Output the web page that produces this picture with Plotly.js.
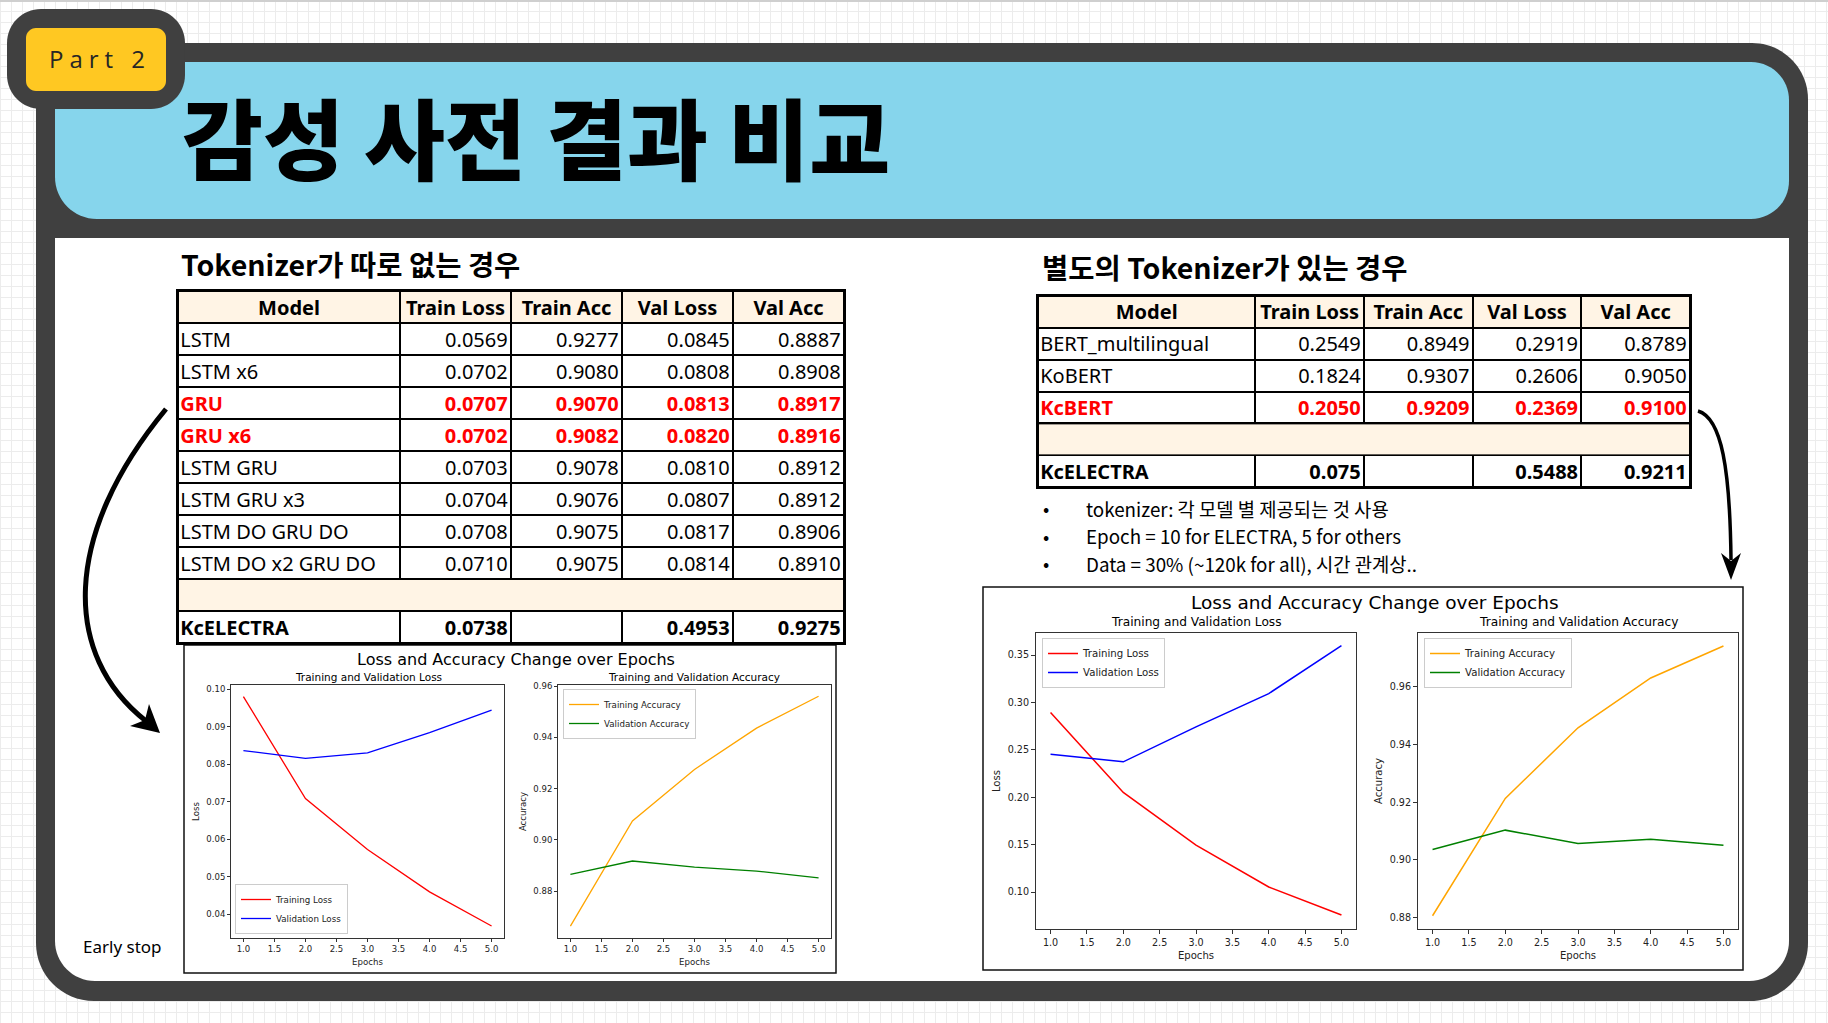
<!DOCTYPE html>
<html><head><meta charset="utf-8">
<script src="https://cdn.plot.ly/plotly-3.0.1.min.js"></script>
<style>
html,body{margin:0;padding:0;}
body{background-color:#fff;background-image:linear-gradient(#ececec 1px,transparent 1px),linear-gradient(90deg,#ececec 1px,transparent 1px);background-size:11px 11px;}
#chart{width:1828px;height:1023px;}
</style></head><body><div id="chart"></div>
<script>
// ---------------- data ----------------
const epochs = [1, 2, 3, 4, 5];
const leftTrainLoss = [0.0980, 0.0708, 0.0572, 0.0459, 0.0368];
const leftValLoss   = [0.0836, 0.0815, 0.0830, 0.0884, 0.0944];
const leftTrainAcc  = [0.8664, 0.9074, 0.9275, 0.9436, 0.9560];
const leftValAcc    = [0.8866, 0.8918, 0.8894, 0.8879, 0.8852];
const rightTrainLoss = [0.2893, 0.2050, 0.1495, 0.1053, 0.0758];
const rightValLoss   = [0.2454, 0.2373, 0.2742, 0.3093, 0.3598];
const rightTrainAcc  = [0.8806, 0.9213, 0.9458, 0.9631, 0.9742];
const rightValAcc    = [0.9036, 0.9103, 0.9057, 0.9071, 0.9051];

const tableHeaders = ['Model', 'Train Loss', 'Train Acc', 'Val Loss', 'Val Acc'];
const models1    = ['LSTM', 'LSTM x6', 'GRU', 'GRU x6', 'LSTM GRU', 'LSTM GRU x3', 'LSTM DO GRU DO', 'LSTM DO x2 GRU DO', '', 'KcELECTRA'];
const trainLoss1 = ['0.0569', '0.0702', '0.0707', '0.0702', '0.0703', '0.0704', '0.0708', '0.0710', '', '0.0738'];
const trainAcc1  = ['0.9277', '0.9080', '0.9070', '0.9082', '0.9078', '0.9076', '0.9075', '0.9075', '', ''];
const valLoss1   = ['0.0845', '0.0808', '0.0813', '0.0820', '0.0810', '0.0807', '0.0817', '0.0814', '', '0.4953'];
const valAcc1    = ['0.8887', '0.8908', '0.8917', '0.8916', '0.8912', '0.8912', '0.8906', '0.8910', '', '0.9275'];
const redRows1 = [2, 3];
const boldRows1 = [9];

const models2    = ['BERT_multilingual', 'KoBERT', 'KcBERT', '', 'KcELECTRA'];
const trainLoss2 = ['0.2549', '0.1824', '0.2050', '', '0.075'];
const trainAcc2  = ['0.8949', '0.9307', '0.9209', '', ''];
const valLoss2   = ['0.2919', '0.2606', '0.2369', '', '0.5488'];
const valAcc2    = ['0.8789', '0.9050', '0.9100', '', '0.9211'];
const redRows2 = [2];
const boldRows2 = [4];

const bulletLines = ['tokenizer: 각 모델 별 제공되는 것 사용', 'Epoch = 10 for ELECTRA, 5 for others', 'Data = 30% (~120k for all), 시간 관계상..'];

// ---------------- helpers ----------------
const W = 1828, H = 1023;
const X = p => p / W, Y = p => 1 - p / H;
const KR = 'Noto Sans CJK KR, Noto Sans, sans-serif';
const LAT = 'Noto Sans, Noto Sans CJK KR, sans-serif';
const MPL = 'DejaVu Sans, sans-serif';

function rr(x0, y0, x1, y1, r) {
  const k = 0.5523; const [a, b, c, d] = r;
  const P = (x, y) => X(x).toFixed(5) + ',' + Y(y).toFixed(5);
  return 'M' + P(x0 + a, y0) + ' L' + P(x1 - b, y0) +
    ' C' + P(x1 - b + b * k, y0) + ' ' + P(x1, y0 + b - b * k) + ' ' + P(x1, y0 + b) +
    ' L' + P(x1, y1 - c) +
    ' C' + P(x1, y1 - c + c * k) + ' ' + P(x1 - c + c * k, y1) + ' ' + P(x1 - c, y1) +
    ' L' + P(x0 + d, y1) +
    ' C' + P(x0 + d - d * k, y1) + ' ' + P(x0, y1 - d + d * k) + ' ' + P(x0, y1 - d) +
    ' L' + P(x0, y0 + a) +
    ' C' + P(x0, y0 + a - a * k) + ' ' + P(x0 + a - a * k, y0) + ' ' + P(x0 + a, y0) + ' Z';
}
function pth(pts) {
  return pts.map(s => s[0] + s.slice(1).reduce((acc, v, i) => acc + (i % 2 === 0 ? (i ? ' ' : '') + X(v).toFixed(5) : ',' + Y(v).toFixed(5)), '')).join(' ');
}
const shapes = [];
function addPath(path, fill, line) { shapes.push({type: 'path', xref: 'paper', yref: 'paper', path: path, fillcolor: fill, line: line || {width: 0}, layer: 'below'}); }
function addRect(x0, y0, x1, y1, fill, lc, lw) { shapes.push({type: 'rect', xref: 'paper', yref: 'paper', x0: X(x0), x1: X(x1), y0: Y(y1), y1: Y(y0), fillcolor: fill, line: {color: lc || fill, width: lw || 0}, layer: 'below'}); }

// ---------------- slide decoration ----------------
addRect(0, 0, W, 2, '#cfcfcf');
addPath(rr(36, 43, 1808, 1001, [40, 56, 58, 58]), '#404040');
addPath(rr(55, 238, 1789, 981, [0, 0, 40, 40]), '#ffffff');
addPath(rr(55, 62, 1789, 219, [0, 38, 38, 42]), '#86D5EC');
addPath(rr(7, 9, 185, 109, [34, 34, 34, 34]), '#404040');
addPath(rr(26, 28, 166, 91, [10, 10, 10, 10]), '#FFC822');
// chart frames
addRect(184, 645, 836, 973, '#ffffff', '#111111', 1.5);
addRect(983, 587, 1743, 970, '#ffffff', '#111111', 1.5);
// table backgrounds (border colour)
addRect(178, 291, 844, 643, '#000000');
addRect(1038, 296, 1690, 487, '#000000');
// arrows
addPath(pth([['M', 166, 409], ['C', 62, 535, 62, 655, 146, 721]]), 'rgba(0,0,0,0)', {color: '#000', width: 5});
addPath(pth([['M', 160, 733], ['L', 130, 726], ['L', 145, 720], ['L', 149, 704], ['Z']]), '#000');
addPath(pth([['M', 1698, 411], ['C', 1722, 418, 1730, 470, 1731, 560]]), 'rgba(0,0,0,0)', {color: '#000', width: 3.5});
addPath(pth([['M', 1731, 580], ['L', 1721, 553], ['L', 1731, 561], ['L', 1741, 553], ['Z']]), '#000');

// ---------------- traces ----------------
const traces = [];
function line(x, y, name, color, xa, ya, lg, w) {
  traces.push({type: 'scatter', mode: 'lines', x: x, y: y, name: name, line: {color: color, width: w},
    xaxis: xa, yaxis: ya, legend: lg, hoverinfo: 'skip'});
}
line(epochs, leftTrainLoss, 'Training Loss', '#ff0000', 'x', 'y', 'legend', 1.3);
line(epochs, leftValLoss, 'Validation Loss', '#0000ff', 'x', 'y', 'legend', 1.3);
line(epochs, leftTrainAcc, 'Training Accuracy', '#ffa500', 'x2', 'y2', 'legend2', 1.3);
line(epochs, leftValAcc, 'Validation Accuracy', '#008000', 'x2', 'y2', 'legend2', 1.3);
line(epochs, rightTrainLoss, 'Training Loss', '#ff0000', 'x3', 'y3', 'legend3', 1.5);
line(epochs, rightValLoss, 'Validation Loss', '#0000ff', 'x3', 'y3', 'legend3', 1.5);
line(epochs, rightTrainAcc, 'Training Accuracy', '#ffa500', 'x4', 'y4', 'legend4', 1.5);
line(epochs, rightValAcc, 'Validation Accuracy', '#008000', 'x4', 'y4', 'legend4', 1.5);

function addTable(models, cols, redRows, boldRows, xa, ya) {
  const edges = [0, 2, 3, 4, 5, 6];
  const nRows = models.length + 1;
  const yOff = 0.58;
  const z = [[1, 1, 1, 1, 1]];
  models.forEach(m => z.push(m === '' ? [null, null, null, null, null] : [0, 0, 0, 0, 0]));
  const yEdges = []; for (let i = 0; i <= nRows; i++) yEdges.push(i);
  const hm = {type: 'heatmap', xgap: 2, ygap: 2, zmin: 0, zmax: 1, colorscale: [[0, '#ffffff'], [1, '#FFF4E5']],
    showscale: false, hoverinfo: 'skip', xaxis: xa, yaxis: ya};
  traces.push(Object.assign({x: edges, y: yEdges, z: z}, hm));
  // merged (empty) rows span the whole table width
  models.forEach((m, i) => { if (m === '') traces.push(Object.assign({x: [0, 6], y: [i + 1, i + 2], z: [[1]]}, hm)); });
  const fnt = {family: LAT, size: 20, color: '#000'};
  traces.push({type: 'scatter', mode: 'text', x: tableHeaders.map((h, j) => (edges[j] + edges[j + 1]) / 2),
    y: tableHeaders.map(() => yOff), text: tableHeaders.map(h => '<b>' + h + '</b>'), textposition: 'middle center',
    textfont: fnt, xaxis: xa, yaxis: ya, showlegend: false, hoverinfo: 'skip'});
  const fmt = (v, i) => (redRows.includes(i) || boldRows.includes(i)) ? '<b>' + v + '</b>' : v;
  const col = i => redRows.includes(i) ? '#ff0000' : '#000000';
  const mx = [], my = [], mt = [], mc = [];
  models.forEach((m, i) => { if (m !== '') { mx.push(0.02); my.push(i + 1 + yOff); mt.push(fmt(m, i)); mc.push(col(i)); } });
  traces.push({type: 'scatter', mode: 'text', x: mx, y: my, text: mt, textposition: 'middle right',
    textfont: {family: LAT, size: 20, color: mc}, xaxis: xa, yaxis: ya, showlegend: false, hoverinfo: 'skip'});
  const nx = [], ny = [], nt = [], nc = [];
  cols.forEach((c, j) => c.forEach((v, i) => { if (v !== '') { nx.push(edges[j + 2] - 0.03); ny.push(i + 1 + yOff); nt.push(fmt(v, i)); nc.push(col(i)); } }));
  traces.push({type: 'scatter', mode: 'text', x: nx, y: ny, text: nt, textposition: 'middle left',
    textfont: {family: LAT, size: 20, color: nc}, xaxis: xa, yaxis: ya, showlegend: false, hoverinfo: 'skip'});
  return nRows;
}
const rows1 = addTable(models1, [trainLoss1, trainAcc1, valLoss1, valAcc1], redRows1, boldRows1, 'x5', 'y5');
const rows2 = addTable(models2, [trainLoss2, trainAcc2, valLoss2, valAcc2], redRows2, boldRows2, 'x6', 'y6');

// ---------------- axes ----------------
function xax(x0, x1, anchor, fs, tl, ts) {
  return {domain: [X(x0), X(x1)], anchor: anchor, range: [0.8, 5.2], dtick: 0.5, tick0: 0, tickformat: '.1f',
    showline: true, mirror: true, linecolor: '#333', linewidth: 1, ticks: 'outside', ticklen: tl, tickcolor: '#333',
    tickfont: {family: MPL, size: fs, color: '#222'}, showgrid: false, zeroline: false, automargin: false, fixedrange: true,
    title: {text: 'Epochs', font: {family: MPL, size: ts, color: '#222'}, standoff: 5}};
}
function yax(y0, y1, anchor, range, dt, fs, tl, title, ts) {
  return {domain: [Y(y1), Y(y0)], anchor: anchor, range: range, dtick: dt, tick0: 0, tickformat: '.2f',
    showline: true, mirror: true, linecolor: '#333', linewidth: 1, ticks: 'outside', ticklen: tl, tickcolor: '#333',
    tickfont: {family: MPL, size: fs, color: '#222'}, showgrid: false, zeroline: false, automargin: false, fixedrange: true,
    title: {text: title, font: {family: MPL, size: ts, color: '#222'}, standoff: 5}};
}
function tax(d0, d1, range, isY, anchor) {
  return {domain: isY ? [Y(d1), Y(d0)] : [X(d0), X(d1)], anchor: anchor, range: range, showline: true, mirror: true,
    linecolor: '#000', linewidth: 2, showgrid: false, zeroline: false, showticklabels: false, ticks: '', automargin: false, fixedrange: true};
}

const legBase = (x, y, ya, fs) => ({x: X(x), y: Y(y), xanchor: 'left', yanchor: ya, bgcolor: 'rgba(255,255,255,0.85)',
  bordercolor: '#cccccc', borderwidth: 1, font: {family: MPL, size: fs, color: '#222'}, tracegroupgap: 0, itemwidth: 30});

// ---------------- annotations ----------------
const ann = [];
function txt(text, x, y, size, opts) {
  ann.push(Object.assign({text: text, x: X(x), y: Y(y), xref: 'paper', yref: 'paper', showarrow: false,
    xanchor: 'left', yanchor: 'middle', font: {family: KR, size: size, color: '#000'}}, opts || {}));
}
txt('Part 2', 100, 59, 24, {xanchor: 'center', font: {family: 'Open Sans, sans-serif', size: 24, color: '#262626'}});
txt('감성 사전 결과 비교', 180, 134, 88, {font: {family: KR, size: 88, color: '#000', weight: 900}});
txt('Tokenizer가 따로 없는 경우', 179, 263, 28.5, {font: {family: KR, size: 28.5, color: '#000', weight: 700}});
txt('별도의 Tokenizer가 있는 경우', 1040, 266, 28.5, {font: {family: KR, size: 28.5, color: '#000', weight: 700}});
bulletLines.forEach((b, i) => {
  const yy = 508 + i * 27.5;
  txt('•', 1041, yy, 18.5, {font: {family: KR, size: 18.5, color: '#000'}});
  txt(b, 1084, yy, 18.8, {font: {family: KR, size: 18.8, color: '#000'}});
});
txt('Early stop', 81, 946, 17, {font: {family: LAT, size: 17, color: '#000'}});
// chart titles
const ct = (t, x, y, s) => txt(t, x, y, s, {xanchor: 'center', font: {family: MPL, size: s, color: '#000'}});
ct('Loss and Accuracy Change over Epochs', 516, 659, 16);
ct('Training and Validation Loss', 368, 677, 10.5);
ct('Training and Validation Accuracy', 694, 677, 10.5);
ct('Loss and Accuracy Change over Epochs', 1375, 602, 18.5);
ct('Training and Validation Loss', 1196, 622, 12.2);
ct('Training and Validation Accuracy', 1578, 622, 12.2);

const layout = {
  width: W, height: H, margin: {l: 0, r: 0, t: 0, b: 0}, paper_bgcolor: 'rgba(0,0,0,0)', plot_bgcolor: 'rgba(0,0,0,0)',
  showlegend: true, hovermode: false,
  xaxis: xax(231, 504, 'y', 8.5, 3, 8.6),
  yaxis: yax(685, 938, 'x', [0.0336, 0.1011], 0.01, 8.5, 3, 'Loss', 8.6),
  xaxis2: xax(558, 831, 'y2', 8.5, 3, 8.6),
  yaxis2: yax(685, 938, 'x2', [0.8618, 0.9604], 0.02, 8.5, 3, 'Accuracy', 8.6),
  xaxis3: xax(1036, 1356, 'y3', 9.6, 4, 10.1),
  yaxis3: yax(633, 929, 'x3', [0.0610, 0.3732], 0.05, 9.6, 4, 'Loss', 10.1),
  xaxis4: xax(1418, 1738, 'y4', 9.6, 4, 10.1),
  yaxis4: yax(633, 929, 'x4', [0.8760, 0.9787], 0.02, 9.6, 4, 'Accuracy', 10.1),
  xaxis5: tax(178, 844, [0, 6], false, 'y5'),
  yaxis5: tax(291, 643, [rows1, 0], true, 'x5'),
  xaxis6: tax(1038, 1690, [0, 6], false, 'y6'),
  yaxis6: tax(296, 487, [rows2, 0], true, 'x6'),
  legend: legBase(235, 934, 'bottom', 8.7),
  legend2: legBase(563, 689, 'top', 8.7),
  legend3: legBase(1042, 638, 'top', 10.2),
  legend4: legBase(1424, 638, 'top', 10.2),
  shapes: shapes,
  annotations: ann
};

Plotly.newPlot('chart', traces, layout, {displayModeBar: false, staticPlot: true}).then(() => {
  document.querySelectorAll('.annotation-text').forEach(t => {
    if (t.textContent === 'Part 2') { t.style.letterSpacing = '6px'; }
  });
});
</script></body></html>
